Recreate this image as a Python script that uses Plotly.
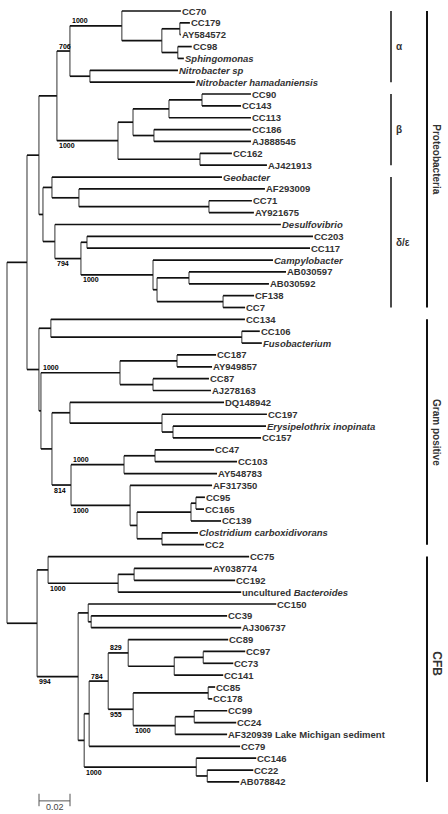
import plotly.graph_objects as go

# ---------------- data ----------------
LEAF_LABELS = [
    "CC70", "CC179", "AY584572", "CC98", "<i>Sphingomonas</i>", "<i>Nitrobacter sp</i>",
    "<i>Nitrobacter hamadaniensis</i>", "CC90", "CC143", "CC113", "CC186", "AJ888545",
    "CC162", "AJ421913", "<i>Geobacter</i>", "AF293009", "CC71", "AY921675",
    "<i>Desulfovibrio</i>", "CC203", "CC117", "<i>Campylobacter</i>", "AB030597", "AB030592",
    "CF138", "CC7", "CC134", "CC106", "<i>Fusobacterium</i>", "CC187", "AY949857", "CC87",
    "AJ278163", "DQ148942", "CC197", "<i>Erysipelothrix inopinata</i>", "CC157", "CC47",
    "CC103", "AY548783", "AF317350", "CC95", "CC165", "CC139",
    "<i>Clostridium carboxidivorans</i>", "CC2", "CC75", "AY038774", "CC192",
    "uncultured <i>Bacteroides</i>", "CC150", "CC39", "AJ306737", "CC89", "CC97", "CC73",
    "CC141", "CC85", "CC178", "CC99", "CC24", "AF320939 Lake Michigan sediment", "CC79",
    "CC146", "CC22", "AB078842",
]
LEAF_PARENT = [
    "A1", "A3", "A3", "A4", "A4", "Nitro", "Nitro", "B3", "B3", "B2", "B4", "B4",
    "B5", "B5", "D1", "D2", "D3", "D3", "D4", "D6", "D6", "D7", "D9", "D9",
    "D10", "D10", "G1", "G2", "G2", "G4", "G4", "G5", "G5", "G6", "G7", "G8",
    "G8", "G11", "G11", "G10", "G12", "G15", "G15", "G14", "G16", "G16",
    "C1", "C1c", "C1c", "C1b", "C3", "C4", "C4", "C8", "C10", "C10", "C9",
    "C12", "C12", "C14", "C14", "C13", "C6", "C15", "C16", "C16",
]
LEAF_LENGTH = [
    0.0381, 0.0065, 0.0006, 0.0090, 0.0039, 0.0568, 0.0677, 0.0316, 0.0252, 0.0529,
    0.0626, 0.0626, 0.0206, 0.0432, 0.1097, 0.1200, 0.0277, 0.0290, 0.1458, 0.1458,
    0.1439, 0.0774, 0.0626, 0.0516, 0.0200, 0.0142, 0.1252, 0.0116, 0.0129, 0.0252,
    0.0226, 0.0361, 0.0374, 0.0994, 0.0677, 0.0600, 0.0568, 0.0381, 0.0529, 0.0600,
    0.0529, 0.0058, 0.0052, 0.0194, 0.0232, 0.0271, 0.1297, 0.0503, 0.0652, 0.0794,
    0.1213, 0.0877, 0.0968, 0.0645, 0.0271, 0.0194, 0.0316, 0.0045, 0.0026, 0.0213,
    0.0271, 0.0335, 0.0974, 0.0387, 0.0297, 0.0206,
]

NODE_IDS = [
    "root", "PG", "Proteo", "AB", "N706", "A1", "A2", "A3", "A4", "Nitro", "Beta", "B1",
    "B2", "B3", "B4", "B5", "Delta", "D1", "D2", "D3", "D4", "D5", "D6", "D7", "D8",
    "D9", "D10", "Gram", "G1", "G2", "Q", "G3", "G4", "G5", "R", "G6", "G7", "G8",
    "G9", "G10", "G11", "G12", "G13", "G14", "G15", "G16", "CFB", "C1", "C1b", "C1c",
    "C2", "C3", "C4", "C5", "C6", "C7", "C8", "C9", "C10", "C11", "C12", "C13", "C14",
    "C15", "C16",
]
NODE_PARENT = [
    None, "root", "PG", "Proteo", "AB", "N706", "A1", "A2", "A2", "N706", "AB", "Beta",
    "B1", "B2", "B1", "Beta", "Proteo", "Delta", "D1", "D2", "Delta", "D4", "D5", "D5", "D7",
    "D8", "D8", "PG", "Gram", "G1", "Gram", "Q", "G3", "G3", "Q", "R", "G6", "G7",
    "R", "G9", "G10", "G9", "G12", "G13", "G14", "G13", "root", "CFB", "C1", "C1b",
    "CFB", "C2", "C3", "C2", "C5", "C6", "C7", "C8", "C9", "C7", "C11", "C11", "C13",
    "C5", "C15",
]
NODE_LENGTH = [
    0.0, 0.0129, 0.0077, 0.0116, 0.0084, 0.0335, 0.0258, 0.0116, 0.0103, 0.0129, 0.0394,
    0.0097, 0.0232, 0.0213, 0.0135, 0.0529, 0.0026, 0.0058, 0.0174, 0.0839, 0.0077,
    0.0168, 0.0039, 0.0465, 0.0026, 0.0206, 0.0426, 0.0077, 0.0077, 0.1232, 0.0013,
    0.0510, 0.0368, 0.0213, 0.0071, 0.0116, 0.0594, 0.0071, 0.0123, 0.0342, 0.0200,
    0.0381, 0.0045, 0.0348, 0.0032, 0.0161, 0.0194, 0.0071, 0.0452, 0.0103, 0.0265,
    0.0065, 0.0019, 0.0039, 0.0032, 0.0123, 0.0129, 0.0297, 0.0187, 0.0161, 0.0484,
    0.0271, 0.0123, 0.0723, 0.0071,
]
NODE_SUPPORT = {
    "N706": 706, "A1": 1000, "Beta": 1000, "D5": 794, "D7": 1000, "G3": 1000,
    "G9": 814, "G10": 1000, "G12": 1000, "C1b": 1000, "C2": 994, "C7": 784,
    "C8": 829, "C11": 955, "C13": 1000, "C15": 1000,
}

SUBGROUP_NAMES = ["α", "β", "δ/ε"]
SUBGROUP_FIRST = [0, 7, 14]
SUBGROUP_LAST = [6, 13, 25]
GROUP_NAMES = ["Proteobacteria", "Gram positive", "CFB"]
GROUP_FIRST = [0, 26, 46]
GROUP_LAST = [25, 45, 65]

SCALE_LENGTH = 0.02
SCALE_LABEL = "0.02"

# ---------------- layout constants ----------------
W, H = 448, 814
PX_PER_UNIT = 31 / 0.02
ROOT_PX = 7
LEAF_TOP_PX = 11
LEAF_STEP_PX = 11.86
FONT = "Arial, Liberation Sans, sans-serif"
LINE = "#111111"
TEXT = "#333333"

# ---------------- tree layout ----------------
node_x = {}
children = {n: [] for n in NODE_IDS}
for n, p, l in zip(NODE_IDS, NODE_PARENT, NODE_LENGTH):
    node_x[n] = 0.0 if p is None else node_x[p] + l
    if p is not None:
        children[p].append(("n", n))
leaf_x = []
for i, (p, l) in enumerate(zip(LEAF_PARENT, LEAF_LENGTH)):
    leaf_x.append(node_x[p] + l)
    children[p].append(("l", i))

node_y = {}


def y_of(item):
    kind, key = item
    if kind == "l":
        return float(key)
    if key not in node_y:
        ys = [y_of(c) for c in children[key]]
        node_y[key] = (min(ys) + max(ys)) / 2
    return node_y[key]


y_of(("n", "root"))

hx, hy, vx, vy = [], [], [], []
for n, p in zip(NODE_IDS, NODE_PARENT):
    ys = [y_of(c) for c in children[n]]
    vx += [node_x[n], node_x[n], None]
    vy += [min(ys), max(ys), None]
    if p is not None:
        hx += [node_x[p], node_x[n], None]
        hy += [node_y[n], node_y[n], None]
for i, p in enumerate(LEAF_PARENT):
    hx += [node_x[p], leaf_x[i], None]
    hy += [i, i, None]

fig = go.Figure()
fig.add_trace(go.Scatter(x=vx, y=vy, mode="lines", line=dict(color="#444444", width=1.1),
                         hoverinfo="skip"))
fig.add_trace(go.Scatter(x=hx, y=hy, mode="lines", line=dict(color=LINE, width=1.7),
                         hoverinfo="skip"))

annotations = []
for i, lab in enumerate(LEAF_LABELS):
    annotations.append(dict(x=leaf_x[i], y=i, xref="x", yref="y", text=lab, showarrow=False,
                            xanchor="left", yanchor="middle", xshift=-1,
                            font=dict(family=FONT, size=9.5, color=TEXT, weight="bold")))

for n, p in zip(NODE_IDS, NODE_PARENT):
    if n in NODE_SUPPORT:
        sib_ys = [y_of(c) for c in children[p]]
        above = node_y[n] <= min(sib_ys)
        annotations.append(dict(x=node_x[p], y=node_y[n], xref="x", yref="y",
                                text=str(NODE_SUPPORT[n]), showarrow=False,
                                xanchor="left", yanchor="middle", xshift=0,
                                yshift=5 if above else -5,
                                font=dict(family=FONT, size=7, color="#000000", weight="bold")))

shapes = []
SUB_X = 391 / W
GRP_X = 427 / W
for name, a, b in zip(SUBGROUP_NAMES, SUBGROUP_FIRST, SUBGROUP_LAST):
    shapes.append(dict(type="line", xref="paper", yref="y", x0=SUB_X, x1=SUB_X, y0=a, y1=b,
                       line=dict(color=LINE, width=1.5)))
    annotations.append(dict(x=SUB_X, y=(a + b) / 2, xref="paper", yref="y", text=name,
                            showarrow=False, xanchor="left", xshift=3,
                            font=dict(family=FONT, size=10, color=TEXT, weight="bold")))
for name, a, b in zip(GROUP_NAMES, GROUP_FIRST, GROUP_LAST):
    shapes.append(dict(type="line", xref="paper", yref="y", x0=GRP_X, x1=GRP_X, y0=a, y1=b,
                       line=dict(color=LINE, width=2)))
    annotations.append(dict(x=GRP_X, y=(a + b) / 2, xref="paper", yref="y", text=name,
                            showarrow=False, xanchor="center", xshift=10, textangle=90,
                            yshift=6 if name == "CFB" else 0,
                            font=dict(family=FONT, size=12 if name == "CFB" else 10,
                                      color=TEXT, weight="bold")))

# scale bar
last = len(LEAF_LABELS) - 1
sx0 = 32 / PX_PER_UNIT
sy = last + 1.6
fig.add_trace(go.Scatter(x=[sx0, sx0, None, sx0, sx0 + SCALE_LENGTH, None,
                            sx0 + SCALE_LENGTH, sx0 + SCALE_LENGTH],
                         y=[sy - 0.6, sy + 0.45, None, sy, sy, None, sy - 0.6, sy + 0.45],
                         mode="lines", line=dict(color="#555555", width=1), hoverinfo="skip"))
annotations.append(dict(x=sx0 + SCALE_LENGTH / 2, y=sy + 0.55, xref="x", yref="y",
                        text=SCALE_LABEL, showarrow=False, xanchor="center",
                        font=dict(family=FONT, size=9, color="#444444")))

fig.update_layout(
    width=W, height=H, margin=dict(l=0, r=0, t=0, b=0, pad=0),
    paper_bgcolor="white", plot_bgcolor="white", showlegend=False,
    xaxis=dict(range=[-ROOT_PX / PX_PER_UNIT, (W - ROOT_PX) / PX_PER_UNIT], visible=False,
               fixedrange=True),
    yaxis=dict(range=[(H - LEAF_TOP_PX) / LEAF_STEP_PX, -LEAF_TOP_PX / LEAF_STEP_PX],
               visible=False, fixedrange=True),
    annotations=annotations, shapes=shapes,
)
fig.write_html("out.html", config={"displayModeBar": False},
               post_script="document.body.style.margin='0';document.body.style.overflow='hidden';")
